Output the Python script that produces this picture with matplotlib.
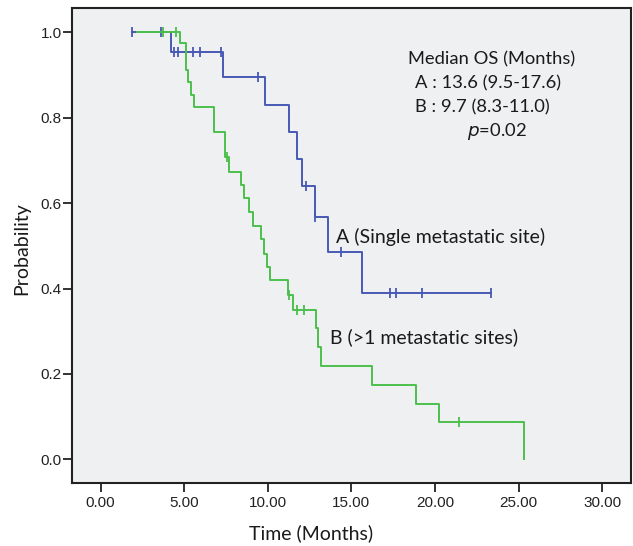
import numpy as np
import matplotlib
matplotlib.use("Agg")
import matplotlib.pyplot as plt

# Group A (single metastatic site): step times and survival after each step
a_times = [1.9, 4.24, 7.3, 9.81, 11.25, 11.77, 12.02, 12.8, 13.62, 15.63, 23.32]
a_surv = [1.0, 0.954, 0.895, 0.831, 0.766, 0.703, 0.641, 0.568, 0.486, 0.389, 0.389]
a_censored = [1.9, 3.64, 4.40, 4.64, 5.53, 5.97, 7.23, 9.42, 12.3, 12.85, 14.4,
              17.32, 17.68, 19.21, 23.32]

# Group B (>1 metastatic sites)
b_times = [2.2, 4.74, 5.10, 5.20, 5.39, 5.59, 6.80, 7.43, 7.67, 8.38, 8.58, 8.88,
           9.10, 9.62, 9.77, 9.95, 10.11, 11.20, 11.50, 12.86, 13.00, 13.20,
           16.25, 18.84, 20.21, 25.35]
b_surv = [1.0, 0.974, 0.913, 0.884, 0.853, 0.826, 0.766, 0.709, 0.674, 0.642, 0.611,
          0.580, 0.546, 0.515, 0.482, 0.451, 0.420, 0.385, 0.350, 0.307, 0.264,
          0.218, 0.174, 0.130, 0.087, 0.0]
b_censored = [3.75, 4.54, 7.57, 11.27, 11.72, 12.18, 21.42]

x_ticks = [0, 5, 10, 15, 20, 25, 30]
y_ticks = [0.0, 0.2, 0.4, 0.6, 0.8, 1.0]

blue = "#4859b4"
green = "#4cbf4c"


def surv_at(times, surv, t):
    i = np.searchsorted(times, t, side="right") - 1
    return np.array(surv)[np.clip(i, 0, len(surv) - 1)]


fig = plt.figure(figsize=(6.33, 5.46), dpi=100)
ax = fig.add_axes([0.1137, 0.1154, 0.8831, 0.8699])
ax.set_facecolor("#eff0f2")

for times, surv, cens, col in [(a_times, a_surv, a_censored, blue),
                               (b_times, b_surv, b_censored, green)]:
    ax.step(times, surv, where="post", color=col, lw=1.4)
    ax.plot(cens, surv_at(times, surv, cens), ls="none", marker="|",
            ms=6.5, mew=1.3, color=col)

ax.set_xlim(-1.71, 31.72)
ax.set_ylim(-0.0555, 1.057)
ax.set_xticks(x_ticks)
ax.set_xticklabels([f"{v:.2f}" for v in x_ticks])
ax.set_yticks(y_ticks)
ax.set_yticklabels([f"{v:.1f}" for v in y_ticks])
ax.tick_params(length=6.5, width=1.3, color="#222222", labelsize=11)
ax.tick_params(axis="x", pad=3)
ax.tick_params(axis="y", pad=1)
for lab in ax.get_xticklabels() + ax.get_yticklabels():
    lab.set_fontfamily("Liberation Sans")
    lab.set_color("#222222")
for s in ax.spines.values():
    s.set_linewidth(1.5)
    s.set_color("#222222")

lab_font = dict(family="Lato", fontsize=14, color="#1a1a1a")
fig.text(311 / 633, 1 - 533 / 546, "Time (Months)", ha="center", va="center", **lab_font)
fig.text(22 / 633, 1 - 249 / 546, "Probability", rotation=90, ha="center", va="center",
         **lab_font)

info_font = dict(family="Lato", fontsize=13.2, color="#1a1a1a")
ax.text(18.37, 0.937, "Median OS (Months)", va="center", **info_font)
ax.text(18.78, 0.881, "A : 13.6 (9.5-17.6)", va="center", **info_font)
ax.text(18.78, 0.824, "B : 9.7 (8.3-11.0)", va="center", **info_font)
ax.text(21.94, 0.767, "$p$=0.02", va="center", **info_font)
ax.text(14.06, 0.521, "A (Single metastatic site)", va="center", **lab_font)
ax.text(13.7, 0.286, "B (>1 metastatic sites)", va="center", **lab_font)

fig.savefig("out.png", dpi=100)
